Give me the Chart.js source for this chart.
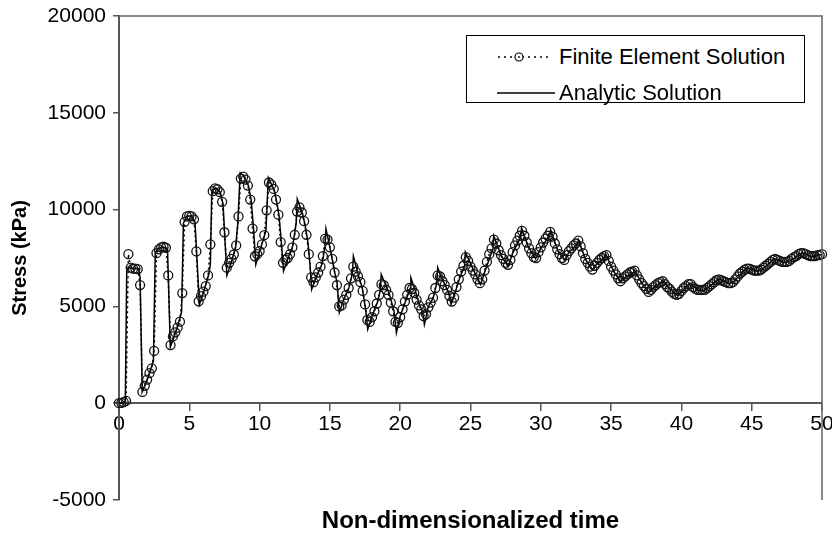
<!DOCTYPE html>
<html>
<head>
<meta charset="utf-8">
<script src="https://cdn.jsdelivr.net/npm/chart.js@4.4.1/dist/chart.umd.min.js"></script>
<style>
html,body{margin:0;padding:0;background:#fff;}
#wrap{position:relative;width:832px;height:536px;}
#legend{position:absolute;left:466px;top:35px;width:339px;height:68px;border:1px solid #000;background:#fff;box-sizing:border-box;
  font:22px "Liberation Sans",Arial,sans-serif;color:#000;}
#legend .sw{position:absolute;left:30px;}
#legend .lb{position:absolute;left:92px;line-height:24px;white-space:nowrap;}
</style>
</head>
<body>
<div id="wrap">
  <canvas id="chart" width="832" height="536"></canvas>
  <div id="legend">
    <svg class="sw" style="top:9px" width="54" height="24"><line x1="1" y1="12" x2="54" y2="12" stroke="#000" stroke-width="1.6" stroke-dasharray="2,4"/><circle cx="22" cy="12" r="4" fill="#fff" stroke="#000" stroke-width="1.2"/><circle cx="22" cy="12" r="0.9" fill="#000"/></svg>
    <span class="lb" style="top:9px">Finite Element Solution</span>
    <svg class="sw" style="top:45px" width="60" height="24"><line x1="0" y1="12" x2="58" y2="12" stroke="#000" stroke-width="1.3"/></svg>
    <span class="lb" style="top:45px">Analytic Solution</span>
  </div>
</div>
<script>
// finite element output, one value every 1/6 time unit from t = 0 to 50
const feStep = 1 / 6;
const feStress = [
  0, 20, 60, 120, 7700, 7000, 6950, 6950, 6930, 6100, 580, 900,
  1220, 1550, 1800, 2700, 7750, 7950, 8050, 8080, 8030, 6600, 3000, 3450,
  3660, 3900, 4210, 5690, 9370, 9650, 9680, 9650, 9500, 7840, 5260, 5530,
  5760, 6050, 6600, 8200, 10950, 11100, 11050, 10900, 10400, 8830, 7000, 7250,
  7450, 7680, 8150, 9650, 11600, 11700, 11550, 11240, 10520, 9020, 7590, 7700,
  7850, 8200, 8680, 9960, 11400, 11290, 11070, 10520, 9740, 8320, 7250, 7420,
  7500, 7700, 8050, 8700, 9900, 10120, 9850, 9400, 8700, 7700, 6500, 6250,
  6500, 6750, 7050, 7600, 8500, 8450, 8050, 7450, 6750, 6100, 5000, 5050,
  5350, 5600, 5950, 6450, 7050, 6800, 6550, 6250, 5800, 5100, 4300, 4200,
  4450, 4750, 5150, 5600, 6150, 6100, 5850, 5600, 5200, 4750, 4200, 4150,
  4450, 4850, 5250, 5600, 5950, 5900, 5700, 5350, 5050, 4850, 4500, 4600,
  4950, 5200, 5450, 5950, 6600, 6550, 6300, 6100, 5850, 5550, 5250, 5450,
  6000, 6400, 6800, 7100, 7550, 7350, 7050, 6850, 6650, 6400, 6200, 6400,
  6850, 7300, 7700, 8000, 8450, 8250, 7900, 7650, 7450, 7250, 7150, 7400,
  7800, 8150, 8400, 8650, 8900, 8650, 8300, 8000, 7750, 7550, 7500, 7800,
  8050, 8300, 8500, 8650, 8850, 8600, 8250, 7950, 7700, 7500, 7400, 7650,
  7850, 8000, 8150, 8250, 8400, 8100, 7750, 7450, 7250, 7050, 6900, 7100,
  7250, 7400, 7500, 7600, 7650, 7350, 7050, 6850, 6650, 6450, 6300, 6450,
  6550, 6650, 6750, 6800, 6850, 6600, 6400, 6200, 6050, 5900, 5750, 5850,
  6000, 6100, 6200, 6250, 6300, 6150, 6000, 5900, 5750, 5650, 5600, 5650,
  5800, 5950, 6050, 6150, 6150, 6000, 5900, 5850, 5850, 5850, 5850, 5950,
  6050, 6150, 6250, 6350, 6400, 6350, 6300, 6250, 6200, 6200, 6250, 6400,
  6550, 6700, 6800, 6900, 6950, 6950, 6900, 6850, 6850, 6850, 6900, 7000,
  7100, 7200, 7300, 7400, 7450, 7400, 7350, 7300, 7300, 7300, 7350, 7450,
  7550, 7600, 7700, 7750, 7750, 7700, 7650, 7600, 7600, 7600, 7650, 7650,
  7700
];

// analytic curve, read at its corners
const anTime = [
  0, 0.45, 0.55, 0.7, 1.4, 1.5, 1.65, 2.0, 2.45, 2.58, 2.8, 3.1, 3.45, 3.65,
  4.0, 4.45, 4.58, 4.8, 5.1, 5.4, 5.72, 6.0, 6.4, 6.5, 6.6, 6.9, 7.2, 7.4, 7.67,
  8.0, 8.3, 8.45, 8.62, 8.85, 9.2, 9.4, 9.57, 9.73, 10.0, 10.45, 10.62, 10.85,
  11.05, 11.2, 11.38, 11.55, 11.7, 12.0, 12.35, 12.6, 12.68, 13.05, 13.25, 13.45,
  13.6, 13.7, 14.1, 14.45, 14.65, 14.72, 15.0, 15.4, 15.5, 15.67, 16.0, 16.35,
  16.6, 16.67, 17.05, 17.3, 17.55, 17.69, 18.1, 18.4, 18.6, 18.65, 18.95, 19.2,
  19.55, 19.73, 20.0, 20.5, 20.72, 20.76, 21.1, 21.4, 21.6, 21.72, 22.0, 22.35,
  22.6, 22.67, 22.9, 23.2, 23.45, 23.62, 23.9, 24.2, 24.58, 24.63, 25.2, 25.72,
  26.0, 26.6, 26.65, 27.2, 27.67, 28.0, 28.58, 28.63, 29.1, 29.63, 30.0, 30.65,
  30.7, 31.2, 31.7, 32.0, 32.62, 32.67, 33.2, 33.67, 34.0, 34.56, 34.6, 35.2,
  35.68, 36.0, 36.58, 36.62, 37.2, 37.7, 38.0, 38.62, 38.65, 39.2, 39.72, 40.6,
  41.2, 41.6, 42.7, 43.4, 43.7, 44.66, 45.4, 45.7, 46.6, 47.3, 47.7, 48.6, 49.3, 50
];
const anStress = [
  0, 50, 6900, 7000, 6950, 6500, 580, 1200, 2200, 7800, 8000, 8080, 7950, 2900,
  3600, 4700, 9300, 9650, 9680, 9400, 5100, 5700, 6700, 7200, 11000, 11100, 10900, 10300, 6600,
  7300, 8100, 9300, 11900, 11750, 11250, 10500, 9000, 7170, 7850, 8900, 11650, 11300,
  11000, 10450, 9700, 8300, 6820, 7450, 8100, 9300, 10550, 9800, 9150, 8250,
  7000, 5880, 6650, 7200, 8100, 9000, 8050, 6550, 6300, 4680, 5400, 5950,
  6700, 7590, 6560, 5950, 4800, 3815, 4700, 5250, 5900, 6650, 6130, 5700,
  4800, 3640, 4500, 5500, 5950, 6480, 5750, 5050, 4700, 4070, 5000, 5450,
  6200, 7000, 6550, 6100, 5700, 5100, 5700, 6400, 7100, 7800, 6900, 6130,
  6750, 8000, 8650, 7600, 7080, 7750, 8600, 9060, 8100, 7460, 8000, 8700,
  8950, 7900, 7380, 7800, 8200, 8430, 7400, 6890, 7200, 7550, 7720, 6800,
  6280, 6500, 6750, 6890, 6200, 5710, 5950, 6250, 6350, 5900, 5560, 6190,
  5850, 5800, 6430, 6190, 6250, 7000, 6820, 6880, 7460, 7280, 7330, 7770, 7560, 7680
];

const xTickValues = [0, 5, 10, 15, 20, 25, 30, 35, 40, 45, 50];
const yTickValues = [-5000, 0, 5000, 10000, 15000, 20000];

const FONT = '"Liberation Sans", Arial, sans-serif';

const frame = {
  id: 'frame',
  afterDraw(chart){
    const {ctx, chartArea: a} = chart;
    ctx.save();
    ctx.strokeStyle = '#666';
    ctx.lineWidth = 1.5;
    ctx.beginPath();
    ctx.moveTo(a.left, a.top);
    ctx.lineTo(a.right, a.top);
    ctx.lineTo(a.right, a.bottom);
    ctx.stroke();
    ctx.restore();
  }
};

new Chart(document.getElementById('chart'), {
  type: 'line',
  data: {
    datasets: [
      {
        label: 'Finite Element Solution',
        data: feStress.map((y, i) => ({x: i * feStep, y})),
        borderColor: '#000',
        borderWidth: 1.5,
        borderDash: [2, 3],
        pointRadius: 4.5,
        pointBackgroundColor: 'rgba(0,0,0,0)',
        pointBorderColor: '#111',
        pointBorderWidth: 1.3,
        tension: 0,
        clip: 8
      },
      {
        label: 'Analytic Solution',
        data: anTime.map((x, i) => ({x, y: anStress[i]})),
        borderColor: '#000',
        borderWidth: 1.5,
        pointRadius: 0,
        tension: 0,
        clip: 8
      }
    ]
  },
  options: {
    responsive: false,
    animation: false,
    layout: {padding: {top: 16, right: 10, left: 0, bottom: 0}},
    plugins: {legend: {display: false}, tooltip: {enabled: false}},
    scales: {
      x: {
        type: 'linear', min: 0, max: 50,
        position: {y: 0},
        afterBuildTicks: s => { s.ticks = xTickValues.map(v => ({value: v})); },
        afterFit: s => { s.paddingLeft = 0; s.paddingRight = 0; },
        ticks: {color: '#000', font: {family: FONT, size: 21}, padding: 1, maxRotation: 0, autoSkip: false,
                callback: v => String(v)},
        grid: {drawOnChartArea: false, tickLength: 7, color: '#555', lineWidth: 1.5},
        border: {color: '#555', width: 2}
      },
      xt: {
        type: 'linear', min: 0, max: 50, position: 'bottom',
        afterFit: s => { s.height = 36; s.paddingLeft = 0; s.paddingRight = 0; },
        ticks: {display: false},
        grid: {display: false},
        border: {display: false},
        title: {display: true, text: 'Non-dimensionalized time', color: '#000',
                font: {family: FONT, size: 24, weight: 'bold'}, padding: {top: 0, bottom: 0}}
      },
      y: {
        type: 'linear', min: -5000, max: 20000, position: 'left',
        afterBuildTicks: s => { s.ticks = yTickValues.map(v => ({value: v})); },
        afterFit: s => { s.width = 119; s.paddingTop = 0; s.paddingBottom = 0; },
        ticks: {color: '#000', font: {family: FONT, size: 21}, padding: 7, callback: v => String(v)},
        grid: {drawOnChartArea: false, tickLength: 6, color: '#555', lineWidth: 1.5},
        border: {color: '#555', width: 2},
        title: {display: true, text: 'Stress (kPa)', color: '#000',
                font: {family: FONT, size: 20, weight: 'bold'}, padding: {top: 8, bottom: 0}}
      }
    }
  },
  plugins: [frame]
});
</script>
</body>
</html>
